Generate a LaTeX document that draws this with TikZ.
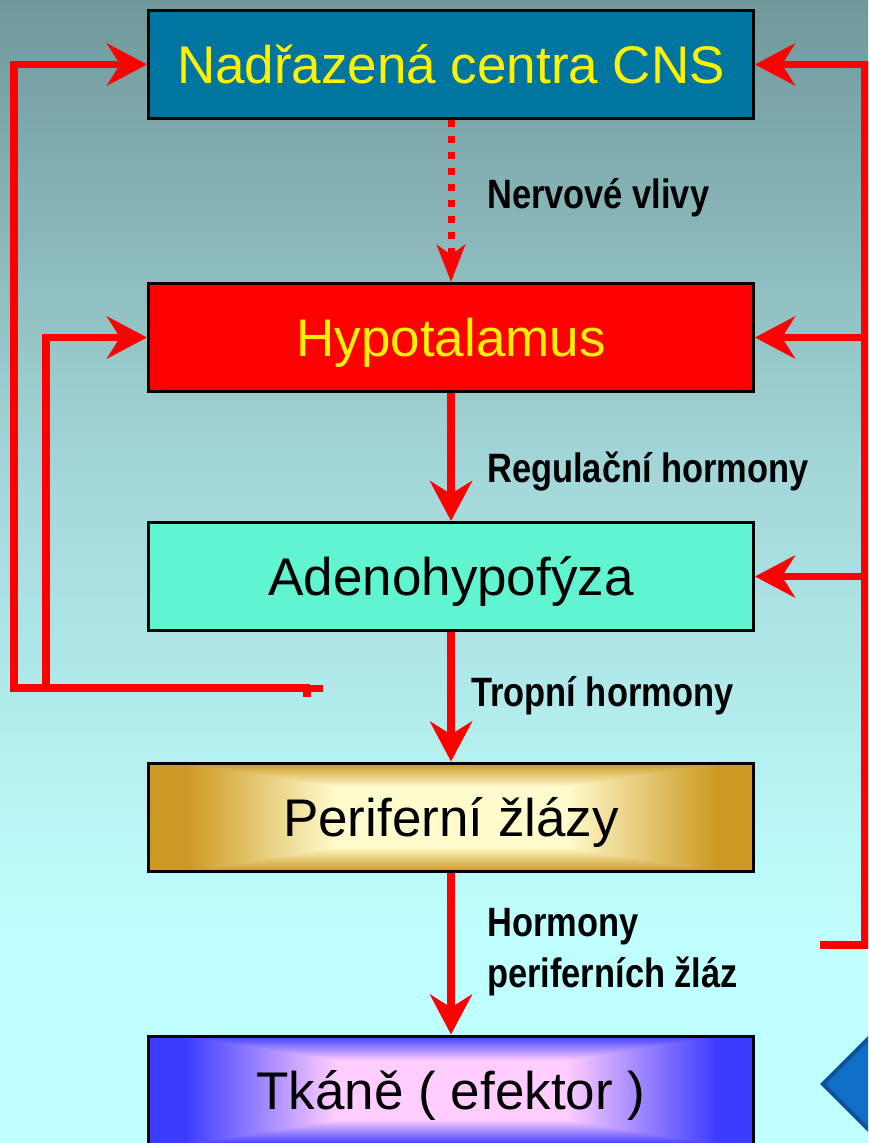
\documentclass[tikz,border=0pt]{standalone}
\usepackage{fontspec}
\setmainfont{Liberation Sans}
\newfontfamily\lblfont[FakeStretch=0.84]{Liberation Sans}
\usetikzlibrary{arrows.meta}

\definecolor{bgtop}{RGB}{112,152,155}
\definecolor{bgmid}{RGB}{163,214,216}
\definecolor{bgbot}{RGB}{192,255,255}
\definecolor{cnsblue}{RGB}{0,117,160}
\definecolor{aqua}{RGB}{96,245,208}
\definecolor{diafill}{RGB}{16,112,200}
\definecolor{diaedge}{RGB}{10,84,160}

\pgfdeclarefunctionalshading{goldrect}{\pgfpoint{-50bp}{-50bp}}{\pgfpoint{50bp}{50bp}}{}{
 abs 25 div 0.55 sub 0.45 div
 exch abs 25 div 0.38 sub 0.5 div
 2 copy lt {exch} if pop
 dup 0 lt {pop 0} if dup 1 gt {pop 1} if
 dup dup
 -0.671 mul 0.804 add
 3 1 roll
 -0.384 mul 0.984 add
 3 1 roll
 -0.2 mul 1 add
 3 1 roll
}
\pgfdeclarefunctionalshading{bluerect}{\pgfpoint{-50bp}{-50bp}}{\pgfpoint{50bp}{50bp}}{}{
 abs 25 div 0.55 sub 0.45 div
 exch abs 25 div 0.38 sub 0.5 div
 2 copy lt {exch} if pop
 dup 0 lt {pop 0} if dup 1 gt {pop 1} if
 dup dup
 0 mul 1 add
 3 1 roll
 -0.569 mul 0.804 add
 3 1 roll
 -0.765 mul 1 add
 3 1 roll
}

\tikzset{
  box/.style={draw=black, line width=3pt, minimum width=605pt, minimum height=108pt,
    inner sep=0pt, text height=38pt, text depth=0pt,
    font=\fontsize{53}{60}\selectfont},
  lbl/.style={anchor=base west, inner sep=0pt, font=\lblfont\bfseries\fontsize{41}{48}\selectfont},
  fb/.style={red, line width=7.5pt, line join=miter},
  arr/.style={fb, -{Stealth[length=40pt,width=42pt,inset=13pt]}},
  dotarr/.style={red, line width=7pt, dash pattern=on 6.5pt off 9.5pt,
    -{Stealth[length=37pt,width=28pt,inset=10pt]}},
}

\begin{document}
\begin{tikzpicture}[x=1pt,y=-1pt]
\useasboundingbox (0,0) rectangle (868,1143);
\begin{scope}
\clip (0,0) rectangle (868,1143);
\shade[top color=bgtop, bottom color=bgbot, middle color=bgmid] (0,0) rectangle (868,930);
\fill[bgbot] (0,929) rectangle (868,1143);

% boxes
\node[box, fill=cnsblue, text=yellow] (cns) at (451,64.5) {Nadřazená centra CNS};
\node[box, fill=red, text=yellow] (hyp) at (451,337.5) {Hypotalamus};
\node[box, fill=aqua] (adeno) at (451,576.5) {Adenohypofýza};
\node[box, shade, shading=goldrect] (perif) at (451,817) {Periferní žlázy};
\node[box, shade, shading=bluerect] (tkane) at (451,1090) {Tkáně ( efektor )};

% diamond in the corner
\draw[fill=diafill, draw=diaedge, line width=4pt, line join=miter]
  (823,1084) -- (902,1005) -- (981,1084) -- (902,1163) -- cycle;

% main downward chain
\draw[dotarr] (cns.south) -- (hyp.north);
\draw[arr] (hyp.south) -- (adeno.north);
\draw[arr] (adeno.south) -- (perif.north);
\draw[arr] (perif.south) -- (tkane.north);

% labels
\node[lbl] (l1) at (487,208) {Nervové vlivy};
\node[lbl] (l2) at (487,482) {Regulační hormony};
\node[lbl] (l3) at (471,706) {Tropní hormony};
\node[lbl] (l4) at (487,936) {Hormony};
\node[lbl] (l5) at (487,987) {periferních žláz};

% left feedback
\coordinate (lend) at (310,688);
\coordinate (lj) at (46,688);
\draw[arr] (lend) -- (14,688) |- (cns.west);
\draw[arr] (lj) |- (hyp.west);
\fill[red] (309,685) rectangle (323,692);
\fill[red] (303,688) rectangle (311,697);

% right feedback
\coordinate (rend) at (820,945);
\coordinate (rail) at (865,0);
\draw[arr] (rend) -- (rail |- rend) |- (cns.east);
\draw[arr] (rail |- hyp.east) -- (hyp.east);
\draw[arr] (rail |- adeno.east) -- (adeno.east);
\end{scope}
\end{tikzpicture}
\end{document}
